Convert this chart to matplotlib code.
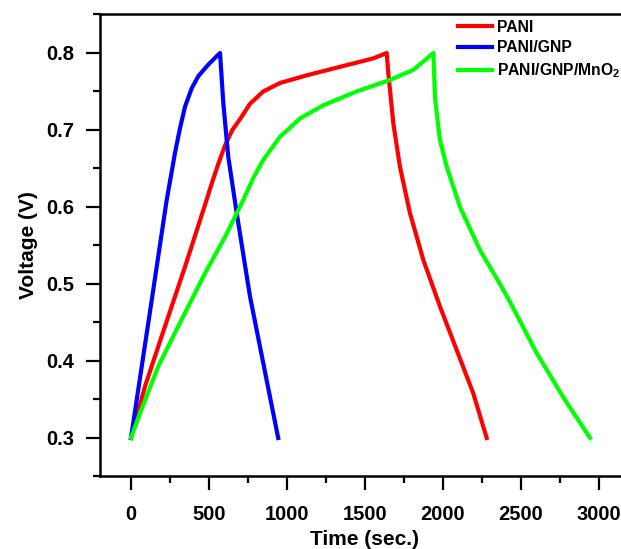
import matplotlib.pyplot as plt
from matplotlib.ticker import MultipleLocator

# GCD curves
pani_t = [0, 90, 218, 346, 475, 517, 560, 603, 650, 699, 763, 848, 955, 1127, 1340, 1554,
          1640, 1650, 1682, 1725, 1789, 1875, 1981, 2089, 2195, 2281]
pani_v = [0.30, 0.367, 0.445, 0.522, 0.603, 0.630, 0.656, 0.680, 0.700, 0.714, 0.734,
          0.750, 0.761, 0.771, 0.782, 0.793, 0.800, 0.774, 0.709, 0.652, 0.592, 0.531, 0.471,
          0.414, 0.358, 0.30]

gnp_t = [0, 69, 133, 197, 229, 282, 314, 346, 389, 432, 496, 571, 592, 624, 678, 763, 870, 944]
gnp_v = [0.30, 0.393, 0.479, 0.566, 0.609, 0.670, 0.702, 0.730, 0.754, 0.770, 0.785, 0.800,
         0.735, 0.665, 0.592, 0.484, 0.375, 0.30]

mno2_t = [0, 69, 175, 303, 475, 603, 720, 780, 848, 955, 1084, 1233, 1447, 1661, 1810, 1875,
          1939, 1950, 1981, 2025, 2110, 2238, 2366, 2430, 2602, 2772, 2944]
mno2_v = [0.30, 0.338, 0.393, 0.445, 0.514, 0.561, 0.609, 0.636, 0.661, 0.691, 0.715, 0.732,
          0.750, 0.765, 0.778, 0.789, 0.800, 0.741, 0.687, 0.652, 0.600, 0.544, 0.500, 0.477,
          0.410, 0.353, 0.30]

labels = ["PANI", "PANI/GNP", r"PANI/GNP/MnO$_\mathbf{2}$"]
colors = ["#ff0000", "#0000ff", "#00ff00"]

plt.rcParams['font.family'] = ['Liberation Sans', 'DejaVu Sans']
plt.rcParams['font.weight'] = 'bold'
plt.rcParams['mathtext.fontset'] = 'custom'
plt.rcParams['mathtext.bf'] = 'Liberation Sans:bold'
plt.rcParams['mathtext.rm'] = 'Liberation Sans:bold'

fig = plt.figure(figsize=(6.21, 5.49), dpi=100)
ax = fig.add_axes([0.1607, 0.1321, 0.8538, 0.8415])

for t, v, c, lab in zip([pani_t, gnp_t, mno2_t], [pani_v, gnp_v, mno2_v], colors, labels):
    ax.plot(t, v, color=c, lw=3, label=lab, solid_joinstyle='round')

ax.set_xlim(-200, 3200)
ax.set_ylim(0.25, 0.85)
ax.xaxis.set_major_locator(MultipleLocator(500))
ax.xaxis.set_minor_locator(MultipleLocator(250))
ax.yaxis.set_major_locator(MultipleLocator(0.1))
ax.yaxis.set_minor_locator(MultipleLocator(0.05))
ax.yaxis.set_major_formatter(plt.FormatStrFormatter('%.1f'))

ax.spines['right'].set_visible(False)
for s in ['left', 'bottom', 'top']:
    ax.spines[s].set_linewidth(1.8)

ax.tick_params(which='both', direction='out', width=1.6, top=False, right=False)
ax.tick_params(which='major', length=10, labelsize=14.5)
ax.tick_params(axis='x', which='major', pad=10.5)
ax.tick_params(axis='y', which='major', pad=8.5)
ax.tick_params(which='minor', length=5)
for lab in ax.get_xticklabels() + ax.get_yticklabels():
    lab.set_fontweight('bold')

ax.set_xlabel("Time (sec.)", fontsize=15, fontweight='bold', labelpad=4)
ax.set_ylabel("Voltage (V)", fontsize=15, fontweight='bold', labelpad=6)

leg = ax.legend(loc='upper left', bbox_to_anchor=(458 / 621, 1 - 19.5 / 549),
                bbox_transform=fig.transFigure, frameon=False, fontsize=11.3,
                handlelength=2.17, handletextpad=0.32, labelspacing=0.38,
                borderpad=0, borderaxespad=0)
for txt in leg.get_texts():
    txt.set_fontweight('bold')

fig.savefig("out.png", dpi=100)
